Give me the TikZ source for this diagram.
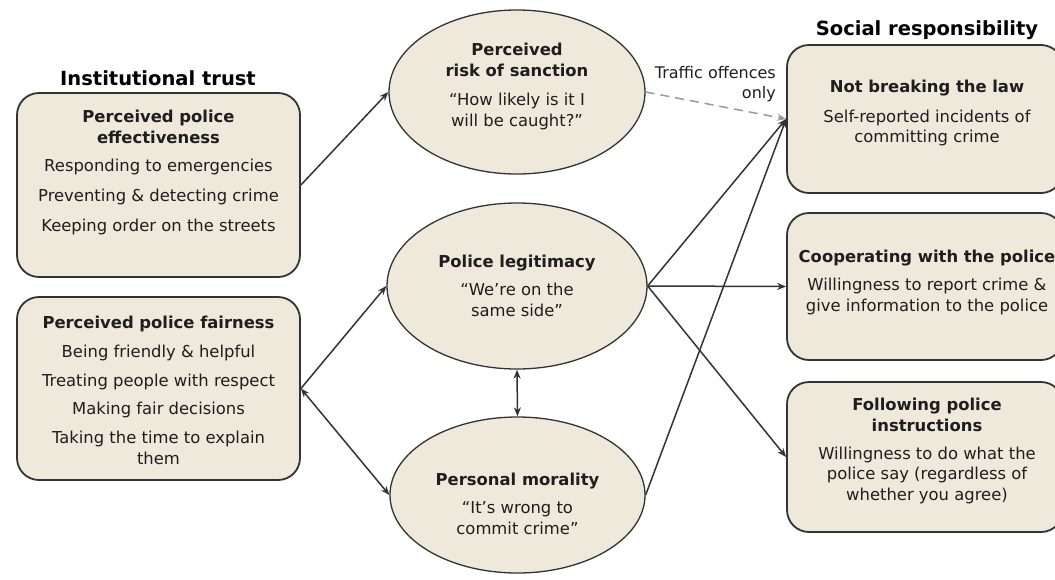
\documentclass[tikz,border=0pt]{standalone}
\usepackage{fontspec}
\setmainfont{DejaVu Sans}
\usetikzlibrary{shapes.geometric,arrows.meta}
\definecolor{boxfill}{HTML}{EEE9DB}
\definecolor{edge}{HTML}{333333}
\definecolor{ink}{HTML}{1E1E1E}
\definecolor{dashgray}{HTML}{9A9A9A}
\begin{document}
\begin{tikzpicture}[x=1pt,y=-1pt,
  rbox/.style={draw=edge, line width=1.8pt, fill=boxfill, rounded corners=22pt, inner sep=0pt},
  ebox/.style={ellipse, draw=edge, line width=1.3pt, fill=boxfill, inner sep=0pt},
  txt/.style={align=center, text=ink, font=\fontsize{16.4}{20.5}\selectfont, inner sep=0pt, anchor=north},
  ttl/.style={font=\bfseries\fontsize{19.5}{23}\selectfont, text=black, inner sep=0pt},
  tipA/.tip={Stealth[length=9pt,width=7pt]},
  arr/.style={line width=1.5pt, draw=edge, -tipA},
  darr/.style={line width=1.5pt, draw=edge, tipA-tipA},
]
\fill[white] (0,0) rectangle (1055,579);
\useasboundingbox (0,0) rectangle (1055,579);

% titles
\node[ttl] (ttlA) at (158,78) {Institutional trust};
\node[ttl] (ttlB) at (927,30) {Social responsibility};

% left boxes
\node[rbox, minimum width=283pt, minimum height=184pt] (eff) at (158.5,185) {};
\node[txt] (efft) at (158.5,110) {\textbf{Perceived police}\\\textbf{effectiveness}\\[8pt]Responding to emergencies\\[9.5pt]Preventing \& detecting crime\\[9.5pt]Keeping order on the streets};

\node[rbox, minimum width=283pt, minimum height=183pt] (fair) at (158.5,388.5) {};
\node[txt] (fairt) at (158.5,316) {\textbf{Perceived police fairness}\\[8pt]Being friendly \& helpful\\[9pt]Treating people with respect\\[7pt]Making fair decisions\\[9pt]Taking the time to explain\\them};

% ellipses
\node[ebox, minimum width=256pt, minimum height=164pt] (sanction) at (517,92) {};
\node[txt] (sanctiont) at (517,43) {\textbf{Perceived}\\\textbf{risk of sanction}\\[9pt]“How likely is it I\\will be caught?”};

\node[ebox, minimum width=260pt, minimum height=166pt] (legit) at (517,286) {};
\node[txt] (legitt) at (517,255) {\textbf{Police legitimacy}\\[7.5pt]“We’re on the\\same side”};

\node[ebox, minimum width=255pt, minimum height=156pt] (moral) at (517.5,495) {};
\node[txt] (moralt) at (517.5,473) {\textbf{Personal morality}\\[7.5pt]“It’s wrong to\\commit crime”};

% right boxes
\node[rbox, minimum width=276pt, minimum height=148pt] (law) at (925,119) {};
\node[txt] (lawt) at (927,80) {\textbf{Not breaking the law}\\[9pt]Self-reported incidents of\\committing crime};

\node[rbox, minimum width=276pt, minimum height=147pt] (coop) at (925,286.5) {};
\node[txt] (coopt) at (927,250) {\textbf{Cooperating with the police}\\[7.5pt]Willingness to report crime \&\\give information to the police};

\node[rbox, minimum width=276pt, minimum height=150pt] (follow) at (925,457) {};
\node[txt] (followt) at (927,398) {\textbf{Following police}\\\textbf{instructions}\\[7.5pt]Willingness to do what the\\police say (regardless of\\whether you agree)};

% label
\node[anchor=north east, align=right, font=\fontsize{16}{20.5}\selectfont, text=ink, inner sep=0pt] (traffic) at (776,66) {Traffic offences\\only};

% connectors
\draw[arr] (eff.east) -- (sanction.west);
\draw[arr] (fair.east) -- (legit.west);
\draw[darr] (fair.east) -- (moral.west);
\draw[darr] (legit.south) -- (moral.north);
\draw[arr, draw=dashgray, dash pattern=on 9pt off 6pt] (sanction.east) -- (law.west);
\draw[arr] (legit.east) -- (law.west);
\draw[arr] (moral.east) -- (law.west);
\draw[arr] (legit.east) -- (coop.west);
\draw[arr] (legit.east) -- (follow.west);
\end{tikzpicture}
\end{document}
